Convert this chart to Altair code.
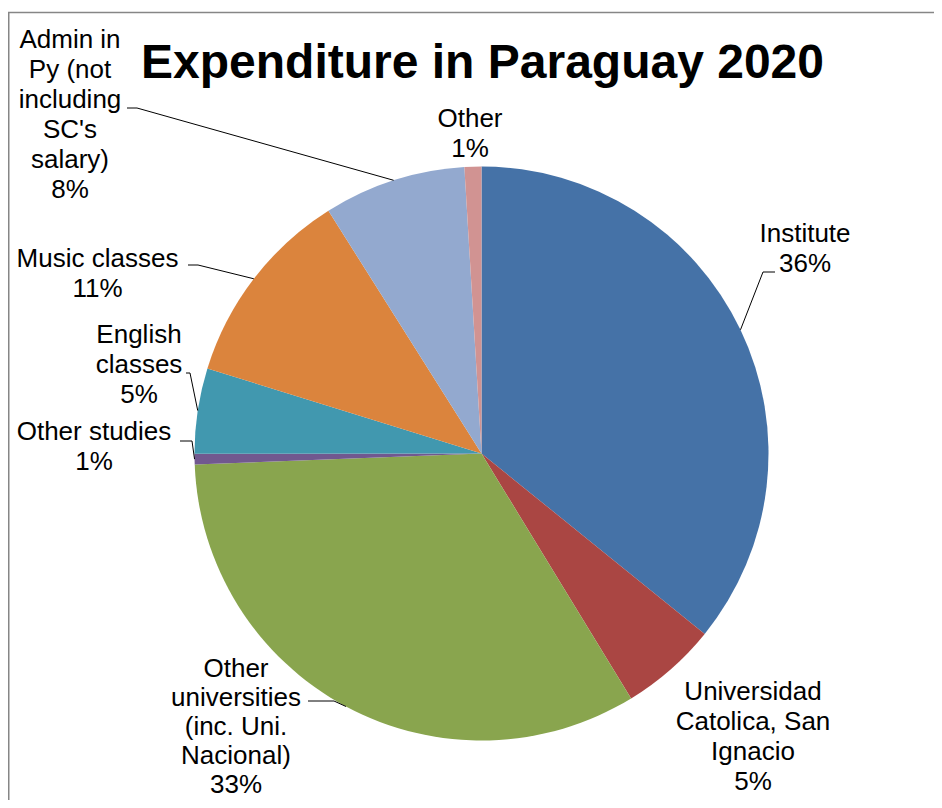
import altair as alt
import numpy as np
import pandas as pd

# ---------------- data ----------------
categories = [
    "Institute",
    "Universidad Catolica, San Ignacio",
    "Other universities (inc. Uni. Nacional)",
    "Other studies",
    "English classes",
    "Music classes",
    "Admin in Py (not including SC's salary)",
    "Other",
]
values = [35.8, 5.45, 33.1, 0.6, 4.8, 11.25, 8.0, 0.95]
colors = ["#4572A7", "#AA4643", "#89A54E", "#71588F", "#4198AF", "#DB843D", "#93A9CF", "#D19392"]
title_text = "Expenditure in Paraguay 2020"

# ---------------- layout (page pixel coordinates) ----------------
W, H = 926, 792
CX, CY, R = 481.5, 453.5, 287
FONT = "Liberation Sans"
LINE_H = 30

label_lines = {
    "Institute": ["Institute"],
    "Universidad Catolica, San Ignacio": ["Universidad", "Catolica, San", "Ignacio"],
    "Other universities (inc. Uni. Nacional)": ["Other", "universities", "(inc. Uni.", "Nacional)"],
    "Other studies": ["Other studies"],
    "English classes": ["English", "classes"],
    "Music classes": ["Music classes"],
    "Admin in Py (not including SC's salary)": ["Admin in", "Py (not", "including", "SC's", "salary)"],
    "Other": ["Other"],
}
label_pos = {
    "Institute": (805, 242),
    "Universidad Catolica, San Ignacio": (753, 700),
    "Other universities (inc. Uni. Nacional)": (236, 677),
    "Other studies": (94, 440),
    "English classes": (139, 343),
    "Music classes": (97.5, 267),
    "Admin in Py (not including SC's salary)": (70, 48),
    "Other": (470, 127),
}
label_line_h = {"Other universities (inc. Uni. Nacional)": 29}
leader_bends = {
    "Institute": [(763, 272), (775, 272)],
    "Other universities (inc. Uni. Nacional)": [(334, 701), (308, 701)],
    "Other studies": [(192, 441), (180, 441)],
    "English classes": [(190, 373), (186, 373)],
    "Music classes": [(198, 265), (188, 265)],
    "Admin in Py (not including SC's salary)": [(137, 108), (127, 108)],
}

# ---------------- derived tables ----------------
vals = np.array(values, dtype=float)
frac = vals / vals.sum()
ends = np.cumsum(frac) * 2 * np.pi
starts = ends - frac * 2 * np.pi
mids = (starts + ends) / 2

pie = pd.DataFrame({
    "category": categories,
    "value": vals,
    "t0": starts,
    "t1": ends,
    "cx": CX,
    "cy": CY,
})

text_rows = []
for cat, f in zip(categories, frac):
    lines = label_lines[cat] + [f"{int(round(f * 100))}%"]
    x0, y0 = label_pos[cat]
    lh = label_line_h.get(cat, LINE_H)
    for i, ln in enumerate(lines):
        text_rows.append({"category": cat, "line": ln, "x": x0, "y": y0 + i * lh})
texts = pd.DataFrame(text_rows)

line_rows = []
for cat, m in zip(categories, mids):
    if cat not in leader_bends:
        continue
    pts = [(CX + R * np.sin(m), CY - R * np.cos(m))] + leader_bends[cat]
    for k, (px, py) in enumerate(pts):
        line_rows.append({"category": cat, "k": k, "x": px, "y": py})
leaders = pd.DataFrame(line_rows)

xs = alt.Scale(domain=[8, 8 + W], range=[0, W], nice=False, zero=False)
ys = alt.Scale(domain=[8, 8 + H], range=[0, H], nice=False, zero=False)

arcs = alt.Chart(pie).mark_arc(outerRadius=R).encode(
    theta=alt.Theta("t0:Q", scale=None),
    theta2=alt.Theta2("t1:Q"),
    x=alt.X("cx:Q", scale=xs, axis=None),
    y=alt.Y("cy:Q", scale=ys, axis=None),
    color=alt.Color("category:N", scale=alt.Scale(domain=categories, range=colors), legend=None),
)

leader_lines = alt.Chart(leaders).mark_line(color="black", strokeWidth=1).encode(
    x=alt.X("x:Q", scale=xs, axis=None),
    y=alt.Y("y:Q", scale=ys, axis=None),
    detail="category:N",
    order="k:Q",
)

labels = alt.Chart(texts).mark_text(
    font=FONT, fontSize=26, align="center", baseline="alphabetic", color="black"
).encode(
    x=alt.X("x:Q", scale=xs, axis=None),
    y=alt.Y("y:Q", scale=ys, axis=None),
    text="line:N",
)

title = alt.Chart(pd.DataFrame({"t": [title_text]})).mark_text(
    font=FONT, fontSize=48, fontWeight="bold", align="center", baseline="alphabetic", color="black"
).encode(
    x=alt.value(482.5 - 8),
    y=alt.value(78 - 8),
    text="t:N",
)

frame = alt.Chart(pd.DataFrame({"a": [0]})).mark_rect(
    fillOpacity=0, stroke="#868686", strokeWidth=1.5
).encode(
    x=alt.value(0.75), x2=alt.value(W + 20), y=alt.value(4.5), y2=alt.value(H + 20)
)

chart = alt.layer(frame, arcs, leader_lines, labels, title).properties(
    width=W, height=H, padding=0, autosize=alt.AutoSizeParams(type="none"), background="white"
).configure_view(strokeWidth=0)

chart.save("out.html", embed_options={"renderer": "svg", "actions": False})
